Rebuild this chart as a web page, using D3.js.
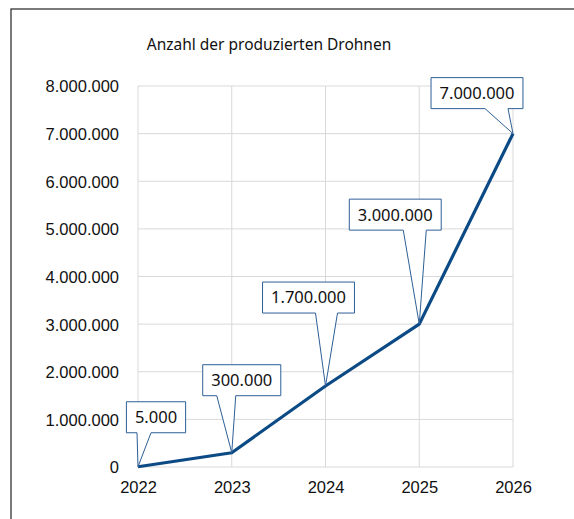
<!DOCTYPE html>
<html>
<head>
<meta charset="utf-8">
<script src="https://cdn.jsdelivr.net/npm/d3@7"></script>
<style>
  body { margin: 0; background: #fff; }
  svg { display: block; font-family: "Noto Sans", sans-serif; }
  .grid line { stroke: #d9d9d9; stroke-width: 1; }
  .axis text { fill: #111; font-size: 16.5px; }
</style>
</head>
<body>
<script>
// data
var years = ["2022", "2023", "2024", "2025", "2026"];
var drones = [5000, 300000, 1700000, 3000000, 7000000];
var yTicks = [0, 1000000, 2000000, 3000000, 4000000, 5000000, 6000000, 7000000, 8000000];
var title = "Anzahl der produzierten Drohnen";

// callout placement: box centre offset from point, pointer base offsets from point x
var calloutDx = [18, 10, -17, -24, -36];
var calloutDy = [-34, -57, -73, -94, -25];
var pointerBase = [[-1, 13], [-15, 4], [-10, 12], [-16, 7], [-28, -5]];

var W = 574, H = 519;
var margin = {top: 86, right: 61, bottom: 52, left: 138},
	width = W - margin.left - margin.right,
	height = H - margin.top - margin.bottom;

var fmt = function(v) { return d3.format(",")(v).replace(/,/g, "."); };

var svg = d3.select("body").append("svg")
	.attr("width", W)
	.attr("height", H);

// outer frame
svg.append("rect")
	.attr("x", 11).attr("y", 9)
	.attr("width", W + 20).attr("height", H + 20)
	.attr("fill", "none")
	.attr("stroke", "#333")
	.attr("stroke-width", 1.3);

svg.append("text")
	.attr("x", 269).attr("y", 50)
	.attr("text-anchor", "middle")
	.attr("font-size", "15.5px")
	.attr("fill", "#111")
	.text(title);

var x = d3.scalePoint()
	.domain(years)
	.range([0, width]);

var y = d3.scaleLinear()
	.domain([0, 8000000])
	.range([height, 0]);

var g = svg.append("g")
	.attr("transform", "translate(" + margin.left + "," + margin.top + ")");

// grid
g.append("g").attr("class", "grid")
	.selectAll("line.h").data(yTicks).enter().append("line")
	.attr("x1", 0).attr("x2", width)
	.attr("y1", function(d) { return y(d); })
	.attr("y2", function(d) { return y(d); });
g.append("g").attr("class", "grid")
	.selectAll("line.v").data(years).enter().append("line")
	.attr("y1", 0).attr("y2", height)
	.attr("x1", function(d) { return x(d); })
	.attr("x2", function(d) { return x(d); });

// axes
var yAxis = g.append("g").attr("class", "axis")
	.call(d3.axisLeft(y).tickValues(yTicks).tickFormat(fmt).tickSize(0).tickPadding(19));
yAxis.select(".domain").remove();
yAxis.selectAll("text").attr("dy", "0.36em");

var xAxis = g.append("g").attr("class", "axis")
	.attr("transform", "translate(0," + height + ")")
	.call(d3.axisBottom(x).tickSize(0).tickPadding(16));
xAxis.select(".domain").remove();
xAxis.selectAll("text").attr("dy", "0.6em").attr("font-size", "17px");

// line
var line = d3.line()
	.x(function(d, i) { return x(years[i]); })
	.y(function(d) { return y(d); });

g.append("path")
	.datum(drones)
	.attr("fill", "none")
	.attr("stroke", "#0b4a85")
	.attr("stroke-width", 3.2)
	.attr("stroke-linejoin", "round")
	.attr("d", line);

// callouts
var boxH = 31;
drones.forEach(function(v, i) {
	var px = x(years[i]), py = y(v);
	var cx = px + calloutDx[i], bottom = py + calloutDy[i];
	var c = g.append("g");
	var t = c.append("text")
		.attr("x", cx).attr("y", bottom - boxH / 2)
		.attr("dy", "0.36em")
		.attr("text-anchor", "middle")
		.attr("font-size", "16.5px")
		.attr("fill", "#111")
		.text(fmt(v));
	var bw = t.node().getComputedTextLength() + 17;
	var l = cx - bw / 2, r = cx + bw / 2, top = bottom - boxH;
	var b0 = px + pointerBase[i][0], b1 = px + pointerBase[i][1];
	var pts = [[l, top], [r, top], [r, bottom], [b1, bottom], [px, py], [b0, bottom], [l, bottom]];
	c.insert("path", "text")
		.attr("d", "M" + pts.join("L") + "Z")
		.attr("fill", "#fff")
		.attr("stroke", "#2d5f96")
		.attr("stroke-width", 1)
		.attr("stroke-linejoin", "miter");
});
</script>
</body>
</html>
